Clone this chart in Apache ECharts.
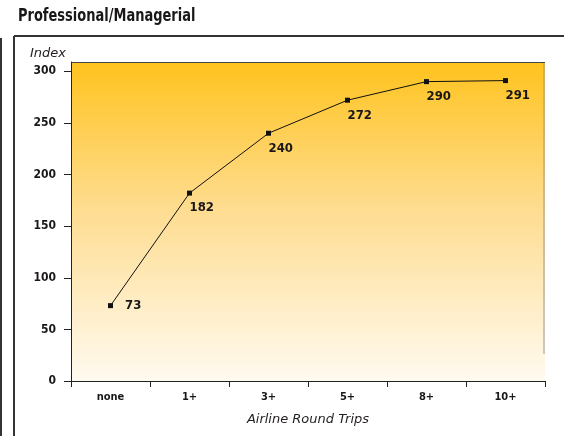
<!DOCTYPE html>
<html>
<head>
<meta charset="utf-8">
<script src="https://cdn.jsdelivr.net/npm/echarts@6/dist/echarts.min.js"></script>
<style>html,body{margin:0;padding:0;background:#fff;}#c{width:564px;height:436px;}</style>
</head>
<body>
<div id="c"></div>
<script>
const categories = ['none', '1+', '3+', '5+', '8+', '10+'];
const values = [73, 182, 240, 272, 290, 291];
const yTicks = [0, 50, 100, 150, 200, 250, 300];
const title = 'Professional/Managerial';
const yName = 'Index';
const xName = 'Airline Round Trips';

const COND = '"DejaVu Sans Condensed", "Liberation Sans Narrow", sans-serif';
const chart = echarts.init(document.getElementById('c'), null, {renderer: 'canvas'});

const seriesData = values.map((v, i) => {
  const item = {value: v};
  if (i === 0) {
    item.label = {position: 'right', distance: 12, align: 'left', verticalAlign: 'middle'};
  }
  return item;
});

chart.setOption({
  animation: false,
  backgroundColor: '#fff',
  graphic: [
    {type: 'text', x: 18, y: 8, scaleX: 0.85, style: {text: title, font: 'bold 17px ' + COND, fill: '#1a1718'}},
    {type: 'line', shape: {x1: 14, y1: 36, x2: 564, y2: 36}, style: {stroke: '#333', lineWidth: 2}},
    {type: 'line', shape: {x1: 14, y1: 36, x2: 14, y2: 436}, style: {stroke: '#333', lineWidth: 2}},
    {type: 'line', shape: {x1: 1, y1: 38, x2: 1, y2: 436}, style: {stroke: '#333', lineWidth: 2}},
    {type: 'line', shape: {x1: 544, y1: 62, x2: 544, y2: 354}, style: {stroke: '#999', lineWidth: 1}},
    {type: 'line', shape: {x1: 71, y1: 62.5, x2: 545, y2: 62.5}, style: {stroke: '#444', lineWidth: 1}}
  ],
  grid: {
    left: 71, top: 62, width: 474, height: 319,
    show: true,
    borderWidth: 0,
    backgroundColor: new echarts.graphic.LinearGradient(0, 0, 0, 1, [
      {offset: 0, color: '#FFC31E'},
      {offset: 0.45, color: '#FEDC8E'},
      {offset: 1, color: '#FFFAF0'}
    ])
  },
  xAxis: {
    type: 'category',
    data: categories,
    boundaryGap: true,
    axisLine: {lineStyle: {color: '#222', width: 1}},
    axisTick: {show: true, length: 6, lineStyle: {color: '#222'}},
    axisLabel: {color: '#1a1718', fontFamily: COND, fontWeight: 'bold', fontSize: 11, margin: 11},
    name: xName,
    nameLocation: 'middle',
    nameGap: 32,
    nameTextStyle: {fontFamily: 'DejaVu Sans, sans-serif', fontStyle: 'italic', fontSize: 13, color: '#231f20'},
    splitLine: {show: false}
  },
  yAxis: {
    type: 'value',
    min: 0, max: 309, interval: 50,
    axisLine: {show: true, lineStyle: {color: '#222', width: 1}},
    axisTick: {show: true, length: 7, lineStyle: {color: '#222'}, customValues: yTicks},
    axisLabel: {color: '#1a1718', fontFamily: COND, fontWeight: 'bold', fontSize: 12, margin: 15, customValues: yTicks},
    splitLine: {show: false},
    name: yName,
    nameLocation: 'end',
    nameGap: 0,
    nameTextStyle: {fontFamily: 'DejaVu Sans, sans-serif', fontStyle: 'italic', fontSize: 13, color: '#231f20', align: 'right', verticalAlign: 'bottom', padding: [0, 5, 2, 0]}
  },
  series: [{
    type: 'line',
    data: seriesData,
    symbol: 'rect',
    symbolSize: 5,
    itemStyle: {color: '#111'},
    lineStyle: {color: '#111', width: 1},
    label: {
      show: true,
      position: 'bottom',
      distance: 6,
      align: 'left',
      color: '#1a1718',
      fontFamily: COND,
      fontWeight: 'bold',
      fontSize: 13
    }
  }]
});
</script>
</body>
</html>
